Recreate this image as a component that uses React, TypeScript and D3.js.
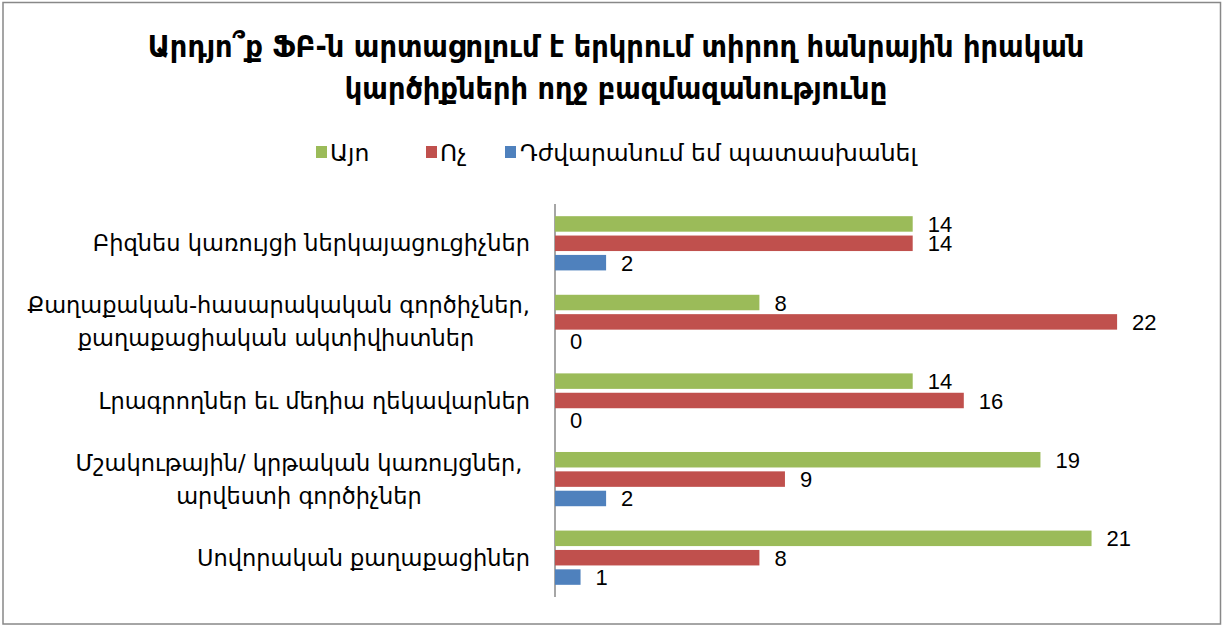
import React from "react";
import * as d3 from "d3";

const categories = [
  "Բիզնես կառույցի ներկայացուցիչներ",
  "Քաղաքական-հասարակական գործիչներ,|քաղաքացիական ակտիվիստներ",
  "Լրագրողներ եւ մեդիա ղեկավարներ",
  "Մշակութային/ կրթական կառույցներ,|արվեստի գործիչներ",
  "Սովորական քաղաքացիներ",
];
const seriesNames = ["Այո", "Ոչ", "Դժվարանում եմ պատասխանել"];
const yesValues = [14, 8, 14, 19, 21];
const noValues = [14, 22, 16, 9, 8];
const hardValues = [2, 0, 0, 2, 1];
const colors = ["#9BBB59", "#C0504D", "#4F81BD"];
const titleLines = [
  "Արդյո՞ք ՖԲ-ն արտացոլում է երկրում տիրող հանրային իրական",
  "կարծիքների ողջ բազմազանությունը",
];

const W = 1222;
const H = 626;

export default function App() {
  const series = [yesValues, noValues, hardValues];
  const x = d3.scaleLinear().domain([0, 25]).range([555, 555 + 25.55 * 25]);
  const y = d3.scaleBand<number>().domain(d3.range(categories.length)).range([204, 597]).paddingInner(0.31).paddingOuter(0.155);
  const inner = d3.scaleBand<number>().domain([0, 1, 2]).range([0, y.bandwidth()]).paddingInner(0.2);
  const font = "'DejaVu Sans', sans-serif";
  const numFont = "'Liberation Sans Narrow', 'Liberation Sans', sans-serif";
  return (
    <svg width={W} height={H} style={{ position: "absolute", left: 0, top: 0 }}>
      <rect x={0} y={0} width={W} height={H} fill="#fff" />
      <rect x={3} y={2.5} width={W - 4.5} height={H - 4.5} fill="none" stroke="#888" strokeWidth={1.5} />
      {titleLines.map((t, i) => (
        <text key={i} x={616} y={57 + i * 42} textAnchor="middle" fontFamily="'DejaVu Sans Condensed', 'DejaVu Sans', sans-serif" fontWeight="bold" fontSize={30.3} fill="#000">
          {t}
        </text>
      ))}
      {/* legend */}
      {[
        { x: 316, tx: 330 },
        { x: 426, tx: 440 },
        { x: 505, tx: 520 },
      ].map((l, i) => (
        <g key={i}>
          <rect x={l.x} y={146} width={11} height={12} fill={colors[i]} />
          <text x={l.tx} y={161} fontFamily={font} fontSize={23.5} fill="#000">
            {seriesNames[i]}
          </text>
        </g>
      ))}
      {/* axis line */}
      <line x1={555} x2={555} y1={204} y2={597} stroke="#888" strokeWidth={1.5} />
      {categories.map((c, ci) => {
        const lines = c.split("|");
        const cy = (y(ci) as number) + y.bandwidth() / 2;
        const lh = 33;
        return (
          <g key={ci}>
            {lines.map((ln, li) => {
              let anchor = "end";
              let lx = 530;
              if (lines.length > 1) {
                if (ci === 1 && li === 0) {
                  anchor = "end";
                  lx = 530;
                } else {
                  anchor = "middle";
                  lx = ci === 1 ? 276 : 299;
                }
              }
              return (
                <text key={li} x={lx} y={cy + 8 + (li - (lines.length - 1) / 2) * lh} textAnchor={anchor} fontFamily={font} fontSize={22.5} fill="#000">
                  {ln}
                </text>
              );
            })}
            {series.map((vals, si) => {
              const by = (y(ci) as number) + (inner(si) as number);
              const v = vals[ci];
              return (
                <g key={si}>
                  {v > 0 && (
                    <rect x={x(0)} y={by} width={x(v) - x(0)} height={inner.bandwidth()} fill={colors[si]} />
                  )}
                  <text x={x(v) + 15} y={by + inner.bandwidth() / 2 + 8} fontFamily={numFont} fontSize={22} fill="#000">
                    {v}
                  </text>
                </g>
              );
            })}
          </g>
        );
      })}
    </svg>
  );
}
